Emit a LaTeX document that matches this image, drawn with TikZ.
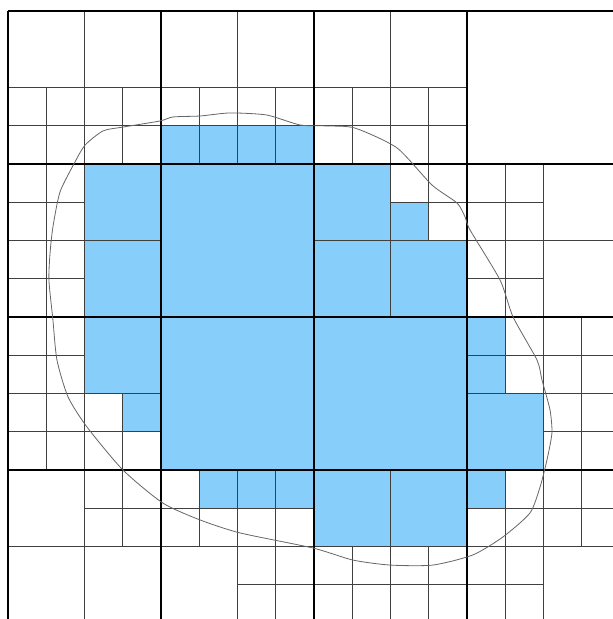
\documentclass[tikz,border=0pt]{standalone}
\usepackage{tikz}
\definecolor{cellblue}{HTML}{87CEFA}
\tikzset{
  coarse/.style={line width=1.5pt, black},
  fine/.style={line width=0.8pt, black!75},
  inside/.style={fill=cellblue},
  blob/.style={line width=0.6pt, black!60}
}

\begin{document}
\begin{tikzpicture}[x=0.5cm,y=-0.5cm]
\useasboundingbox (-0.418,-0.575) rectangle (31.634,31.791);
\clip (-0.418,-0.575) rectangle (31.634,31.791);
% cells lying inside the region
\foreach \x/\y/\s in {8/6/2,10/6/2,12/6/2,14/6/2,20/10/2,6/20/2,24/16/2,24/18/2,
  10/24/2,12/24/2,14/24/2,24/24/2,
  4/8/4,4/12/4,16/8/4,16/12/4,20/12/4,4/16/4,24/20/4,16/24/4,20/24/4,
  8/8/8,8/16/8,16/16/8}
  \fill[inside] (\x,\y) rectangle +(\s,\s);
% refined cells
\foreach \x/\y/\s in {0/0/8,8/0/8,16/0/8,0/8/8,16/8/8,24/8/8,0/16/8,24/16/8,
  0/24/8,8/24/8,16/24/8,24/24/8,
  0/4/4,4/4/4,8/4/4,12/4/4,16/4/4,20/4/4,0/8/4,0/12/4,20/8/4,24/8/4,24/12/4,
  0/16/4,0/20/4,4/20/4,24/16/4,28/16/4,28/20/4,4/24/4,8/24/4,12/24/4,12/28/4,
  16/28/4,20/28/4,24/24/4,28/24/4,24/28/4} {
  \draw[fine] (\x+\s/2,\y) -- +(0,\s);
  \draw[fine] (\x,\y+\s/2) -- +(\s,0);
}
\foreach \k in {0,8,16,24,32} {
  \draw[coarse] (\k,0) -- (\k,32);
  \draw[coarse] (0,\k) -- (32,\k);
}
% boundary of the region
\draw[blob] plot[smooth cycle, tension=0.4] coordinates {
  (2.14,14.07) (2.20,12.65) (2.35,11.29) (2.72,9.46) (3.50,7.90) (4.03,7.01)
  (4.97,6.27) (6.01,6.07) (7.95,5.75) (8.63,5.54) (10.04,5.49) (11.61,5.33)
  (13.54,5.44) (15.27,5.96) (16.68,6.01) (18.14,6.12) (20.34,7.16) (22.17,9.10)
  (23.48,10.04) (23.90,10.77) (24.16,11.45) (25.73,14.07) (26.41,16.00)
  (27.66,18.25) (27.92,19.29) (28.34,20.86) (28.44,22.07) (28.18,23.48)
  (27.82,24.89) (27.29,26.25) (25.88,27.50) (24.31,28.44) (22.22,28.97)
  (19.97,28.97) (18.04,28.71) (15.95,28.08) (12.13,27.29) (10.04,26.61)
  (8.10,25.73) (6.01,24.00) (4.13,21.75) (3.14,20.18) (2.56,18.25) (2.35,16.16)};
\end{tikzpicture}
\end{document}
